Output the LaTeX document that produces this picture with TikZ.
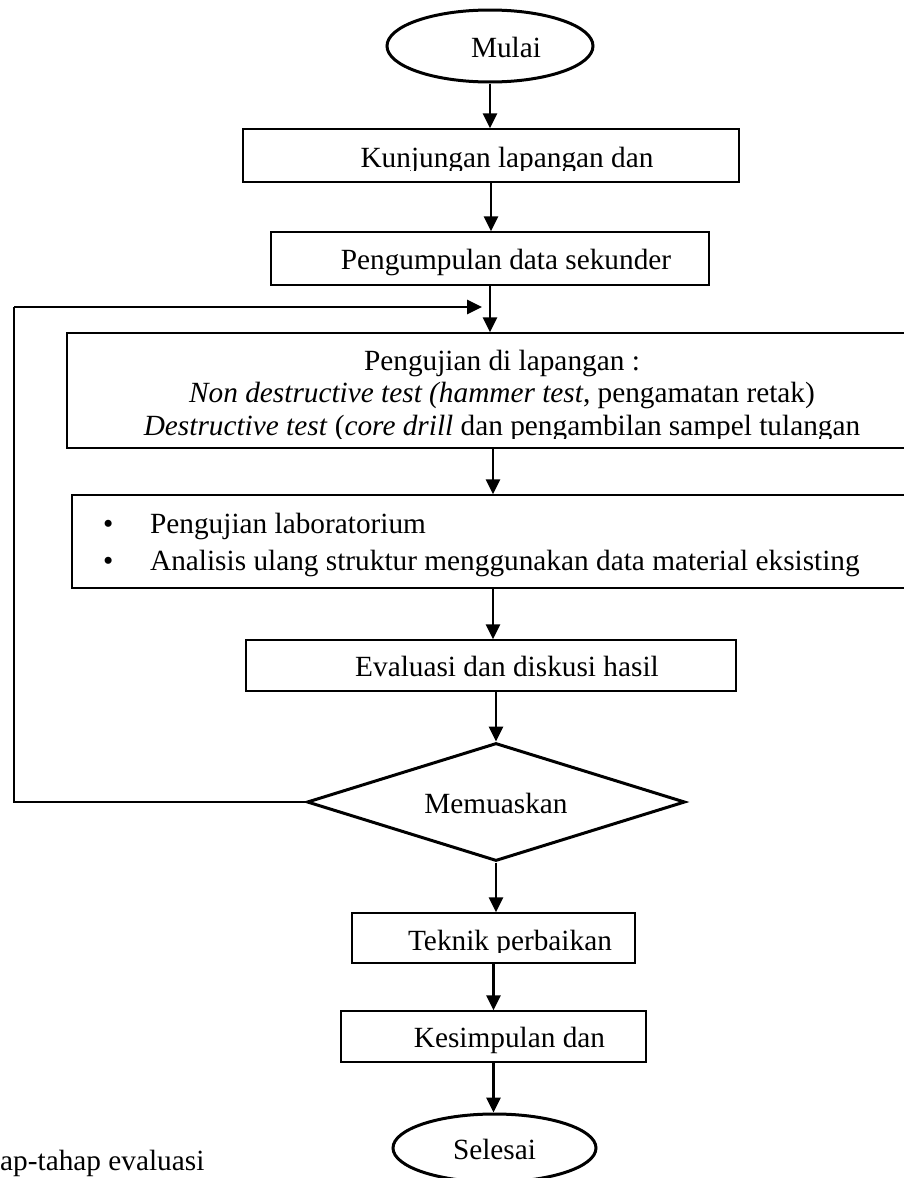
\documentclass[tikz,border=0pt]{standalone}
\usepackage{fontspec}
\setmainfont{Liberation Serif}
\usetikzlibrary{arrows.meta,shapes.geometric}
\newcommand{\indentgap}{\hspace*{32pt}}

\begin{document}
\begin{tikzpicture}[x=1pt,y=-1pt,font=\fontsize{29.3pt}{35pt}\selectfont,
 >={Triangle[length=15pt,width=14pt]},
 box/.style={draw,line width=1.4pt,inner sep=2pt,text height=29.3pt,text depth=6.4pt},
 terminal/.style={draw,ellipse,line width=3pt,inner sep=0pt,text height=29.3pt,text depth=6.4pt},
 decision/.style={draw,diamond,aspect=3.2,line width=3pt,inner sep=0pt,text height=29.3pt,text depth=6.4pt},
 flow/.style={->,line width=2.8pt},
 back/.style={line width=1.5pt}]
\useasboundingbox (0,0) rectangle (903,1178);

% shapes of the flow
\node[terminal,minimum width=206pt,minimum height=72pt] (mulai) at (490,46) {\indentgap Mulai};
\node[box,minimum width=496pt,minimum height=53pt] (kunj) at (491,155.5) {};
\node[box,minimum width=438pt,minimum height=53pt] (kumpul) at (490,258.5) {\indentgap Pengumpulan data sekunder};
\node[box,minimum width=870pt,minimum height=115pt] (uji) at (502,390.5) {};
\node[box,minimum width=842pt,minimum height=93pt] (lab) at (493,541.5) {};
\node[box,minimum width=490pt,minimum height=51pt] (eval) at (491,665.5) {\indentgap Evaluasi dan diskusi hasil};
\node[decision,minimum width=378pt,minimum height=118pt] (memu) at (496,802) {Memuaskan};
\node[box,minimum width=283pt,minimum height=50pt] (tek) at (493.5,938) {};
\node[box,minimum width=305pt,minimum height=51pt] (kesim) at (493.5,1036.5) {\indentgap Kesimpulan dan};
\node[terminal,minimum width=203pt,minimum height=68pt] (selesai) at (494.5,1148) {Selesai};

% texts cut off at the lower edge
\begin{scope}
\clip (kunj.north west) rectangle ([yshift=12pt]kunj.south east);
\node[anchor=base] (kunjT) at (507,167) {Kunjungan lapangan dan};
\end{scope}
\begin{scope}
\clip (uji.north west) rectangle ([yshift=10pt]uji.south east);
\node[align=center,inner sep=0pt,font=\fontsize{29.3pt}{32.5pt}\selectfont] (ujiT) at (502,395.7)
 {Pengujian di lapangan :\\
 \textit{Non destructive test (hammer test}, pengamatan retak)\\
 \textit{Destructive test} (\textit{core drill} dan pengambilan sampel tulangan};
\end{scope}
\begin{scope}
\clip (tek.north west) rectangle ([yshift=11pt]tek.south east);
\node[anchor=base] (tekT) at (510,950) {Teknik perbaikan};
\end{scope}
\node[anchor=west,align=left,inner sep=0pt,font=\fontsize{29.3pt}{37pt}\selectfont] (labT) at (103,544.7)
 {\textbullet\hspace{36.7pt}Pengujian laboratorium\\
 \textbullet\hspace{36.7pt}Analisis ulang struktur menggunakan data material eksisting};

% connectors
\draw[flow] (mulai.south) -- (mulai.south |- kunj.north);
\draw[flow] (kunj.south) -- (kunj.south |- kumpul.north);
\draw[flow] (kumpul.south) -- (kumpul.south |- uji.north);
\draw[flow] (lab.north |- uji.south) -- (lab.north);
\draw[flow] (lab.south) -- (lab.south |- eval.north);
\draw[flow] (memu.north |- eval.south) -- (memu.north);
\draw[flow] (memu.south) -- (memu.south |- tek.north);
\draw[flow] (tek.south) -- (tek.south |- kesim.north);
\draw[flow] (kesim.south) -- (kesim.south |- selesai.north);

% back loop
\coordinate (loop) at (14,307);
\coordinate (looptip) at (482,307);
\draw[back] (memu.west) -| (loop);
\draw[flow] (loop) -- (looptip);

\node[anchor=base west,inner sep=0pt] (caption) at (0,1170) {ap-tahap evaluasi};
\end{tikzpicture}
\end{document}
